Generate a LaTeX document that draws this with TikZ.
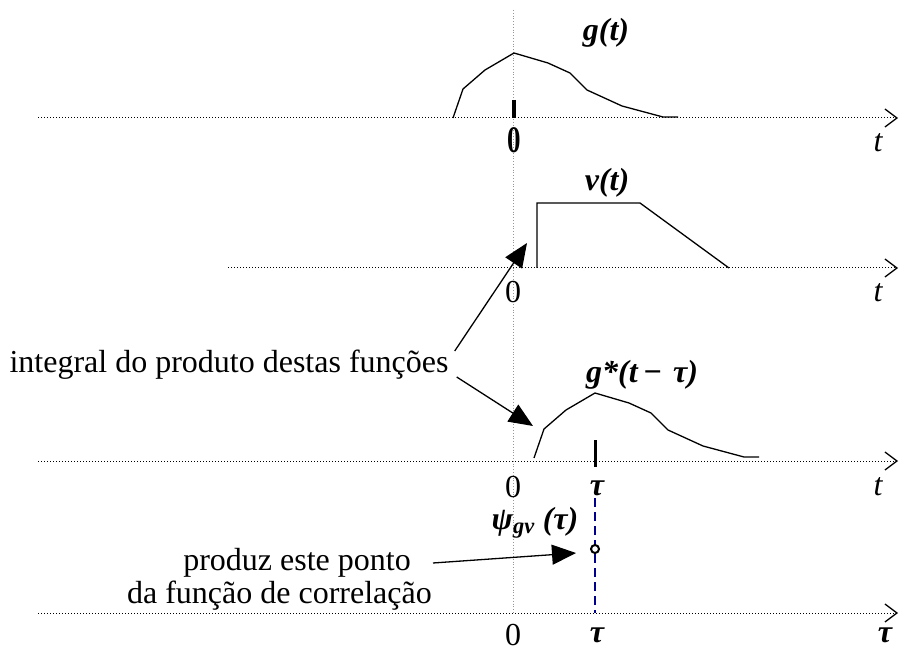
\documentclass[tikz,border=0pt]{standalone}
\usepackage{fontspec}
\setmainfont{Liberation Serif}
\usetikzlibrary{arrows.meta}
\definecolor{corrblue}{RGB}{0, 0, 140}
\definecolor{guidegray}{RGB}{150, 150, 150}

\begin{document}
\begin{tikzpicture}[x=1pt, y=-1pt,
    axis/.style={dotted, line width=1pt, -{Straight Barb[length=12pt, width=18pt, line width=1.3pt]}},
    curve/.style={line width=1.3pt},
    lbl/.style={font=\fontsize{32}{34}\selectfont, inner sep=0pt},
    fn/.style={font=\fontsize{32}{34}\selectfont\bfseries\itshape, inner sep=0pt},
    pointer/.style={line width=1.3pt, -{Triangle[length=24pt, width=20pt]}}]
      \useasboundingbox (0,0) rectangle (899,652);
      % Time axes
      \foreach \y/\x in {118/38, 268/228, 461/38, 613/38} {
        \draw[axis] (\x,\y) -- (898,\y);
      }
      % Origin line
      \draw[guidegray, dotted, line width=0.8pt] (513,10) -- (513,613);

      % g(t)
      \draw[curve] (453,118) -- (463,89) -- (485,70) -- (514,53) -- (548,63) -- (570,73)
        -- (587,90) -- (622,106) -- (663,117) -- (678,117);
      \draw[line width=3.5pt] (514,100) -- (514,118);
      \node[fn] (gt) at (606,33) {g(t)};
      \node[lbl, font=\fontsize{30}{32}\selectfont\bfseries] (zeroA) at (514,140) {\scalebox{0.9}[1.25]{0}};
      \node[lbl, font=\fontsize{32}{34}\selectfont\itshape] (tA) at (878,143) {t};

      % v(t)
      \draw[curve] (537,268) -- (537,203) -- (640,203) -- (729,268);
      \node[fn] (vt) at (607,183) {v(t)};
      \node[lbl] (zeroB) at (513,292) {0};
      \node[lbl, font=\fontsize{32}{34}\selectfont\itshape] (tB) at (878,293) {t};

      % g*(t - tau)
      \draw[curve] (534,458) -- (544,429) -- (566,410) -- (595,393) -- (629,403) -- (651,413)
        -- (668,430) -- (703,446) -- (744,457) -- (759,457);
      \draw[line width=3pt] (595,440) -- (595,467);
      \node[fn] (gshift) at (642,375) {g*(t\,−\,\,τ)};
      \node[lbl] (zeroC) at (513,487) {0};
      \node[fn] (tauC) at (597,488) {τ};
      \node[lbl, font=\fontsize{32}{34}\selectfont\itshape] (tC) at (878,487) {t};

      % Correlation
      \draw[corrblue, line width=1.5pt, dash pattern=on 9pt off 5pt] (595,498) -- (595,613);
      \node[draw, circle, line width=2pt, fill=white, inner sep=0pt, minimum size=8pt] (pt) at (595,549) {};
      \node[fn] (psi) at (535,523) {ψ\textsubscript{gv} (τ)};
      \node[lbl] (zeroD) at (513,635) {0};
      \node[fn] (tauD) at (597,635) {τ};
      \node[fn] (tauE) at (885,635) {τ};

      % Labels
      \node[lbl] (intg) at (229,365) {integral do produto destas funções};
      \node[lbl, anchor=east] (produz) at (411,563) {produz este ponto};
      \node[lbl, anchor=east] (funcao) at (432,596) {da função de correlação};
      \coordinate (tipv) at (527,243);
      \coordinate (tipg) at (533,426);
      \draw[pointer] (intg.east) ++(6,-14) -- (tipv);
      \draw[pointer] (intg.east) ++(8,12) -- (tipg);
      \draw[pointer] (produz.east) ++(22,0) -- ([xshift=-19pt,yshift=-4pt]pt.center);
\end{tikzpicture}
\end{document}
